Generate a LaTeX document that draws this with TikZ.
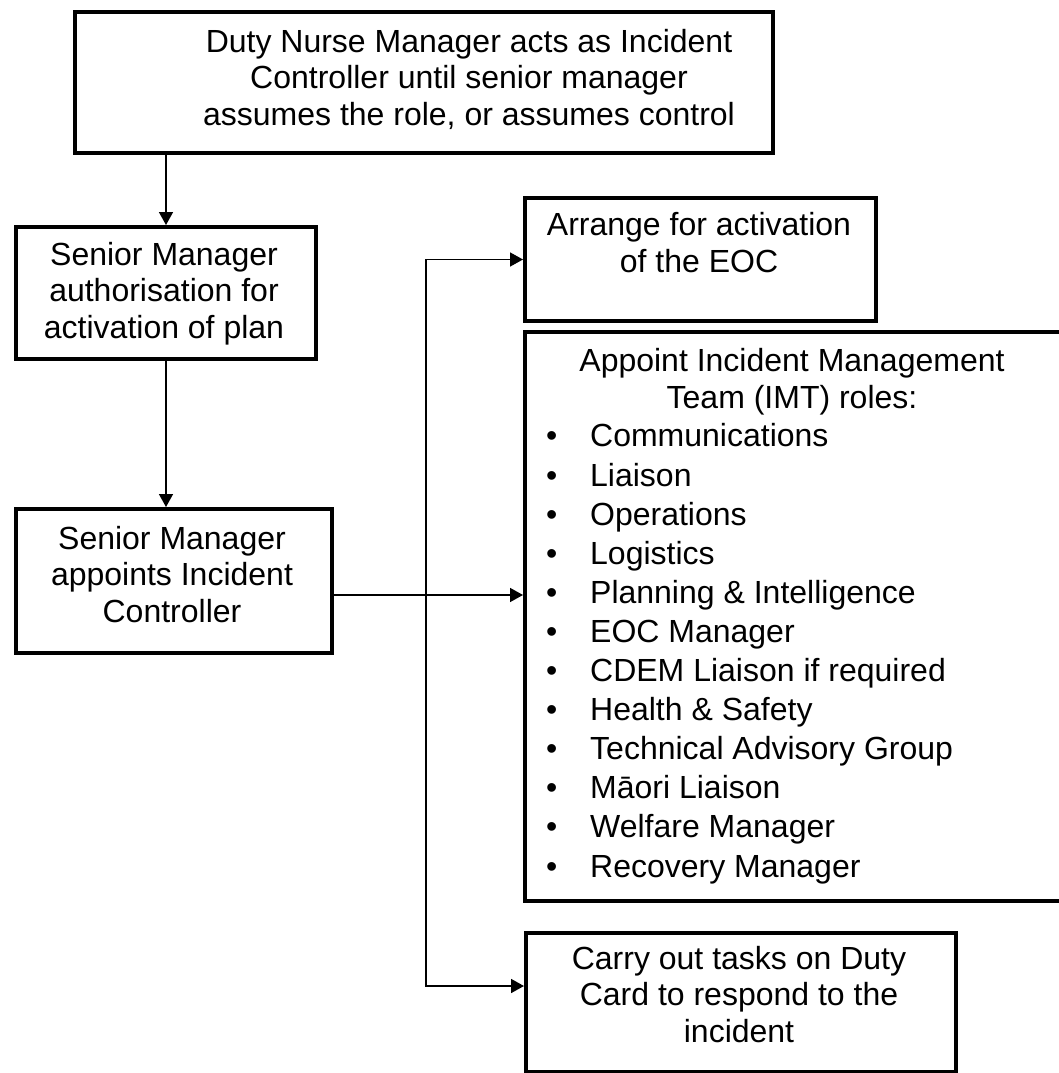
\documentclass[tikz,border=0pt]{standalone}
\usepackage{fontspec}
\setmainfont{Liberation Sans}
\usetikzlibrary{arrows.meta}
\begin{document}
\begin{tikzpicture}[x=1pt,y=-1pt,
  box/.style={draw=black, line width=4pt, rectangle, inner sep=0pt},
  txt/.style={font=\fontsize{32}{36.5}\selectfont, align=center, anchor=base, inner sep=0pt},
  lst/.style={font=\fontsize{32}{39.1}\selectfont, align=left, anchor=base west, inner sep=0pt},
  conn/.style={line width=1.6pt, -{Triangle[length=13pt,width=14pt]}},
  wire/.style={line width=1.6pt}
]
\clip (0,0) rectangle (1059,1073);
\fill[white] (0,0) rectangle (1059,1073);

% boxes
\node[box, minimum width=698pt, minimum height=141pt, anchor=north west] (t) at (73,10) {};
\node[box, minimum width=300pt, minimum height=132pt, anchor=north west] (b2) at (14,225) {};
\node[box, minimum width=316pt, minimum height=144pt, anchor=north west] (b3) at (14,507) {};
\node[box, minimum width=351pt, minimum height=123pt, anchor=north west] (b4) at (523,196) {};
\node[box, minimum width=545pt, minimum height=569pt, anchor=north west] (imt) at (523,330) {};
\node[box, minimum width=430pt, minimum height=139pt, anchor=north west] (b6) at (524,931) {};

% texts (anchor = baseline of the last line)
\node[txt] (tt) at (469,125) {Duty Nurse Manager acts as Incident\\Controller until senior manager\\assumes the role, or assumes control};
\node[txt] (b2t) at (164,338) {Senior Manager\\authorisation for\\activation of plan};
\node[txt] (b3t) at (172,622) {Senior Manager\\appoints Incident\\Controller};
\node[txt] (b4t) at (699,272) {Arrange for activation\\of the EOC};
\node[txt] (imth) at (792,408) {Appoint Incident Management\\Team (IMT) roles:};
\node[lst] (imtl) at (546,877) {%
\makebox[44pt][l]{•}Communications\\
\makebox[44pt][l]{•}Liaison\\
\makebox[44pt][l]{•}Operations\\
\makebox[44pt][l]{•}Logistics\\
\makebox[44pt][l]{•}Planning \& Intelligence\\
\makebox[44pt][l]{•}EOC Manager\\
\makebox[44pt][l]{•}CDEM Liaison if required\\
\makebox[44pt][l]{•}Health \& Safety\\
\makebox[44pt][l]{•}Technical Advisory Group\\
\makebox[44pt][l]{•}Māori Liaison\\
\makebox[44pt][l]{•}Welfare Manager\\
\makebox[44pt][l]{•}Recovery Manager};
\node[txt] (b6t) at (739,1042) {Carry out tasks on Duty\\Card to respond to the\\incident};

% connectors
\coordinate (jt) at (426,595);
\coordinate (y6) at (0,986);
\draw[conn] (b2.north |- t.south) -- (b2.north);
\draw[conn] (b2.south) -- (b2.south |- b3.north);
\draw[conn] (b3.east |- jt) -- (imt.west |- jt);
\draw[conn] (jt) |- (b4.west);
\draw[conn] (jt) |- (b6.west |- y6);
\end{tikzpicture}
\end{document}
